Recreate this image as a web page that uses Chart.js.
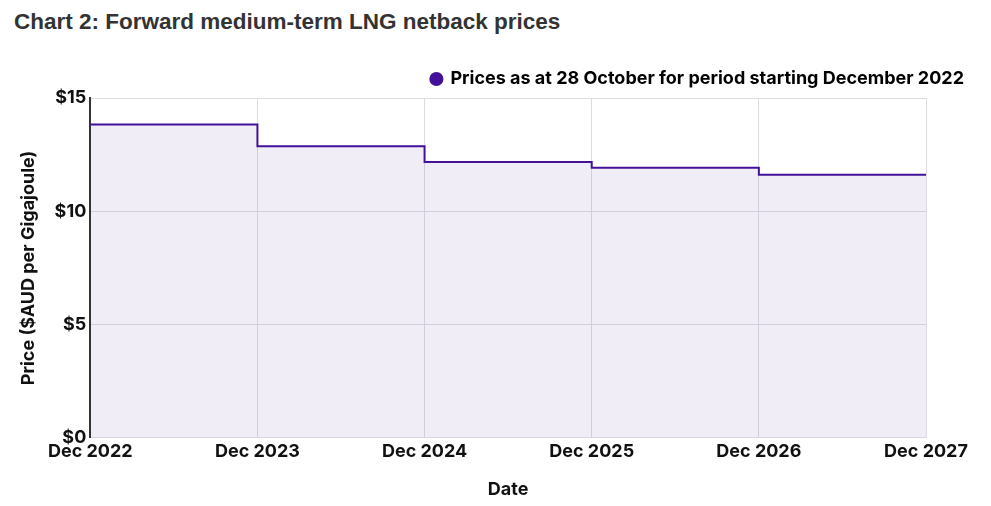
<!DOCTYPE html>
<html>
<head>
<meta charset="utf-8">
<script src="https://cdn.jsdelivr.net/npm/chart.js@4.4.1/dist/chart.umd.min.js"></script>
<style>
  html, body { margin: 0; padding: 0; background: #fff; }
  #wrap { position: relative; width: 991px; height: 506px; }
  #title { position: absolute; left: 14px; top: 9px; font: bold 22.5px "Liberation Sans", Arial, sans-serif; color: #333; }
  #box { position: absolute; left: 0; top: 62px; width: 991px; height: 444px; }
</style>
</head>
<body>
<div id="wrap">
  <div id="title">Chart 2: Forward medium-term LNG netback prices</div>
  <div id="box"><canvas id="c"></canvas></div>
</div>
<script>
// periods (x) and AUD/GJ netback price for each one
const periods = ['Dec 2022', 'Dec 2023', 'Dec 2024', 'Dec 2025', 'Dec 2026', 'Dec 2027'];
const prices = [13.83, 12.87, 12.17, 11.92, 11.61, 11.61];
const yTicks = [0, 5, 10, 15];
const seriesLabel = 'Prices as at 28 October for period starting December 2022';

const purple = '#43109a';
const tickFont = { family: 'Inter, "Noto Sans", sans-serif', size: 18, weight: '700' };

new Chart(document.getElementById('c').getContext('2d'), {
  type: 'line',
  data: {
    labels: periods,
    datasets: [{
      label: seriesLabel,
      data: prices,
      stepped: 'before',
      borderColor: purple,
      borderWidth: 2,
      backgroundColor: 'rgba(90, 50, 170, 0.09)',
      fill: 'origin',
      pointRadius: 0,
      pointHoverRadius: 0
    }]
  },
  options: {
    responsive: true,
    maintainAspectRatio: false,
    animation: false,
    layout: { padding: { left: 14, right: 19, top: 0, bottom: 2 } },
    plugins: {
      tooltip: { enabled: false },
      legend: {
        display: true,
        align: 'end',
        labels: {
          usePointStyle: true,
          pointStyle: 'circle',
          boxWidth: 10,
          boxHeight: 10,
          color: '#111',
          padding: 8,
          font: tickFont,
          generateLabels: () => [{
            text: seriesLabel,
            fillStyle: purple,
            strokeStyle: purple,
            lineWidth: 0,
            pointStyle: 'circle'
          }]
        }
      }
    },
    scales: {
      x: {
        type: 'category',
        offset: false,
        grid: { color: '#dedbe3', drawTicks: false },
        border: { display: true, color: '#dedbe3', width: 1 },
        ticks: { color: '#111', font: tickFont, padding: 3, maxRotation: 0, autoSkip: false },
        title: { display: true, text: 'Date', color: '#111', font: tickFont, padding: { top: 13 } }
      },
      y: {
        min: 0,
        max: 15,
        afterBuildTicks: ax => { ax.ticks = yTicks.map(v => ({ value: v })); },
        grid: { color: '#dedbe3', drawTicks: false },
        border: { display: true, color: '#333', width: 2 },
        ticks: { color: '#111', font: tickFont, padding: 4, callback: v => '$' + v },
        title: { display: true, text: 'Price ($AUD per Gigajoule)', color: '#111', font: tickFont, padding: { bottom: 11 } }
      },
      // empty spacer on the right so the last tick label has room
      spacer: {
        type: 'linear',
        position: 'right',
        display: true,
        grid: { display: false },
        border: { display: false },
        ticks: { display: false },
        afterFit: s => { s.width = 46; }
      }
    }
  }
});
</script>
</body>
</html>
